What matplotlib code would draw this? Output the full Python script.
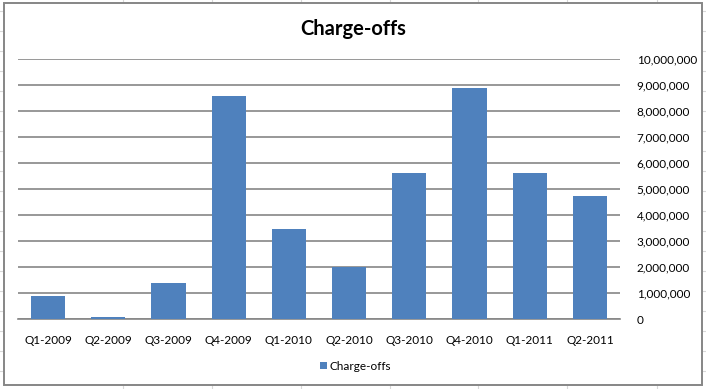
import matplotlib
matplotlib.use("Agg")
import matplotlib.pyplot as plt
from matplotlib.patches import Rectangle
from matplotlib.ticker import FuncFormatter, MultipleLocator

categories = ["Q1-2009", "Q2-2009", "Q3-2009", "Q4-2009", "Q1-2010",
              "Q2-2010", "Q3-2010", "Q4-2010", "Q1-2011", "Q2-2011"]
charge_offs = [900000, 80000, 1410000, 8600000, 3470000,
               2000000, 5630000, 8900000, 5630000, 4740000]
title = "Charge-offs"
series_name = "Charge-offs"

W, H = 706, 389
plt.rcParams['font.family'] = ['Lato', 'DejaVu Sans']
fig = plt.figure(figsize=(W / 100, H / 100), dpi=100)

# spreadsheet background
bg = fig.add_axes([0, 0, 1, 1])
bg.set_xlim(0, W)
bg.set_ylim(H, 0)
bg.axis('off')
for x in [123, 212, 301, 390, 478, 567, 657]:
    bg.plot([x, x], [0, H], color='#d8d8d8', lw=0.8)
for y in range(11, H, 20):
    bg.plot([0, W], [y, y], color='#d8d8d8', lw=0.8)
bg.add_patch(Rectangle((4, 3), 698, 382, facecolor='white',
                       edgecolor='#868686', lw=1.4, zorder=3))
bg.text(353, 29, title, ha='center', va='center', fontsize=14.5,
        fontweight='bold', zorder=4)
bg.add_patch(Rectangle((320, 362), 6.5, 6.5, facecolor='#4F81BD',
                       edgecolor='none', zorder=4))
bg.text(330, 366, series_name, ha='left', va='center', fontsize=8.5, zorder=4)

# plot area
left, right, top, bottom = 18, 620, 59.3, 319.3
ax = fig.add_axes([left / W, 1 - bottom / H, (right - left) / W, (bottom - top) / H])
ax.patch.set_alpha(0)
ax.bar(range(len(categories)), charge_offs, width=0.57, color='#4F81BD', zorder=2)
ax.set_xlim(-0.5, len(categories) - 0.5)
ax.set_ylim(0, 10000000)
ax.yaxis.set_major_locator(MultipleLocator(1000000))
ax.yaxis.set_major_formatter(FuncFormatter(lambda v, p: f"{int(v):,}"))
ax.yaxis.tick_right()
ax.grid(axis='y', color='#868686', lw=1.2, zorder=1)
ax.set_axisbelow(True)
for s in ['top', 'left', 'right']:
    ax.spines[s].set_visible(False)
ax.spines['bottom'].set_color('#868686')
ax.spines['bottom'].set_linewidth(1.2)
ax.spines['bottom'].set_zorder(1)
ax.set_xticks(range(len(categories)))
ax.set_xticklabels(categories)
ax.tick_params(axis='both', length=0, labelsize=8.5)
ax.tick_params(axis='x', pad=11)
ax.tick_params(axis='y', pad=12)
for lab in ax.get_yticklabels():
    lab.set_horizontalalignment('left')

fig.savefig("out.png", dpi=100)
